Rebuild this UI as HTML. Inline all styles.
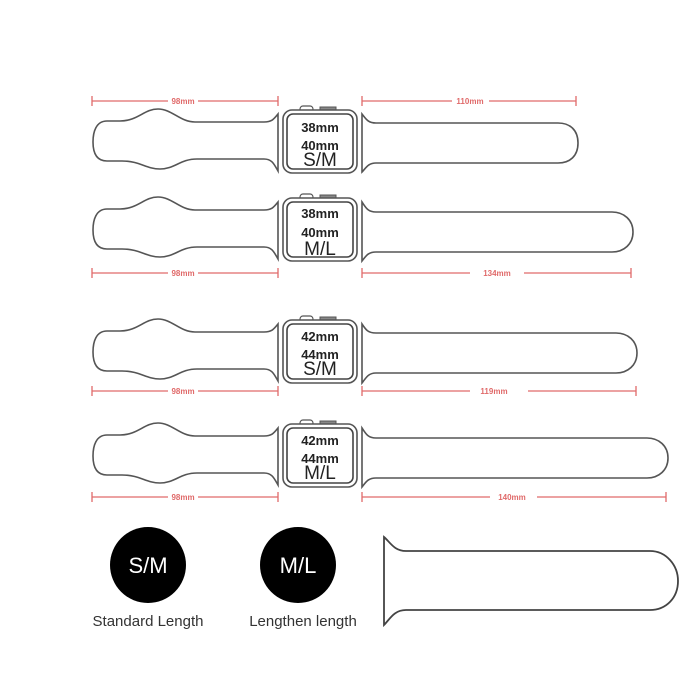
<!DOCTYPE html>
<html><head><meta charset="utf-8"><style>
html,body{margin:0;padding:0;background:#fff;width:700px;height:700px;overflow:hidden}
svg{display:block}
.s{fill:#fff;stroke:#555;stroke-width:1.6}
.d{stroke:#e06a6a;stroke-width:1.3;fill:none}
.dt{fill:#e06a6a;font:bold 8px "Liberation Sans",sans-serif}
.w1{font:bold 13px "Liberation Sans",sans-serif;fill:#222}
.w2{font:19px "Liberation Sans",sans-serif;fill:#222}
</style></head><body>
<svg width="700" height="700" viewBox="0 0 700 700" xmlns="http://www.w3.org/2000/svg">
<defs>
<g id="L">
<path class="s" d="M278,-28 C274,-23 272,-20 264,-20 L195,-20 C180,-20 172,-33 158,-33 C144,-33 138,-21 120,-21 L107,-21 C96,-21 93,-10 93,0 C93,10 96,19 107,19 L122,19 C140,19 146,27 160,27 C175,27 180,17 197,17 L264,17 C272,17 274,22 278,29 Z"/>
</g>
<g id="W">
<rect x="300" y="-36" width="13" height="6" rx="3" fill="#fff" stroke="#555" stroke-width="1.2"/>
<rect x="320" y="-35" width="16" height="4" fill="#888" stroke="#555" stroke-width="1"/>
<rect x="283" y="-32" width="74" height="63" rx="9" fill="#fff" stroke="#555" stroke-width="1.6"/>
<rect x="287" y="-28" width="66" height="55" rx="6" fill="#fff" stroke="#444" stroke-width="1.6"/>
</g>
</defs>

<g transform="translate(0,142)">
<use href="#L"/><use href="#W"/>
<path class="s" d="M362,-28 C366,-23 368,-19 376,-19 L558,-19 C570,-19 578,-12 578,1 C578,14 570,21 558,21 L376,21 C368,21 366,26 362,30 Z"/>
<text class="w1" x="320" y="-10" text-anchor="middle">38mm</text>
<text class="w1" x="320" y="8" text-anchor="middle">40mm</text>
<text class="w2" x="320" y="24" text-anchor="middle">S/M</text>
</g>
<g>
<path class="d" d="M92,101 H168 M198,101 H278 M92,96 V106 M278,96 V106"/>
<text class="dt" x="183" y="104" text-anchor="middle">98mm</text>
<path class="d" d="M362,101 H452 M489,101 H576 M362,96 V106 M576,96 V106"/>
<text class="dt" x="470" y="104" text-anchor="middle">110mm</text>
</g>

<g transform="translate(0,230)">
<use href="#L"/><use href="#W"/>
<path class="s" d="M362,-28 C366,-22 368,-18 376,-18 L612,-18 C624,-18 633,-10 633,2 C633,14 624,22 612,22 L376,22 C368,22 366,26 362,31 Z"/>
<text class="w1" x="320" y="-12" text-anchor="middle">38mm</text>
<text class="w1" x="320" y="7" text-anchor="middle">40mm</text>
<text class="w2" x="320" y="25" text-anchor="middle">M/L</text>
</g>
<g>
<path class="d" d="M92,273 H168 M198,273 H278 M92,268 V278 M278,268 V278"/>
<text class="dt" x="183" y="276" text-anchor="middle">98mm</text>
<path class="d" d="M362,273 H470 M524,273 H631 M362,268 V278 M631,268 V278"/>
<text class="dt" x="497" y="276" text-anchor="middle">134mm</text>
</g>

<g transform="translate(0,352)">
<use href="#L"/><use href="#W"/>
<path class="s" d="M362,-28 C366,-22 368,-19 376,-19 L616,-19 C628,-19 637,-11 637,1 C637,13 628,21 616,21 L376,21 C368,21 366,26 362,31 Z"/>
<text class="w1" x="320" y="-11" text-anchor="middle">42mm</text>
<text class="w1" x="320" y="7" text-anchor="middle">44mm</text>
<text class="w2" x="320" y="23" text-anchor="middle">S/M</text>
</g>
<g>
<path class="d" d="M92,391 H168 M198,391 H278 M92,386 V396 M278,386 V396"/>
<text class="dt" x="183" y="394" text-anchor="middle">98mm</text>
<path class="d" d="M362,391 H470 M528,391 H636 M362,386 V396 M636,386 V396"/>
<text class="dt" x="494" y="394" text-anchor="middle">119mm</text>
</g>

<g transform="translate(0,456)">
<use href="#L"/><use href="#W"/>
<path class="s" d="M362,-28 C366,-22 368,-18 376,-18 L647,-18 C659,-18 668,-10 668,2 C668,14 659,22 647,22 L376,22 C368,22 366,26 362,31 Z"/>
<text class="w1" x="320" y="-11" text-anchor="middle">42mm</text>
<text class="w1" x="320" y="7" text-anchor="middle">44mm</text>
<text class="w2" x="320" y="23" text-anchor="middle">M/L</text>
</g>
<g>
<path class="d" d="M92,497 H168 M198,497 H278 M92,492 V502 M278,492 V502"/>
<text class="dt" x="183" y="500" text-anchor="middle">98mm</text>
<path class="d" d="M362,497 H490 M537,497 H666 M362,492 V502 M666,492 V502"/>
<text class="dt" x="512" y="500" text-anchor="middle">140mm</text>
</g>

<circle cx="148" cy="565" r="38" fill="#000"/>
<text x="148" y="573" text-anchor="middle" fill="#fff" font-family="Liberation Sans, sans-serif" font-size="22">S/M</text>
<circle cx="298" cy="565" r="38" fill="#000"/>
<text x="298" y="573" text-anchor="middle" fill="#fff" font-family="Liberation Sans, sans-serif" font-size="22">M/L</text>
<text x="148" y="626" text-anchor="middle" fill="#333" font-family="Liberation Sans, sans-serif" font-size="15">Standard Length</text>
<text x="303" y="626" text-anchor="middle" fill="#333" font-family="Liberation Sans, sans-serif" font-size="15">Lengthen length</text>
<path fill="#fff" stroke="#444" stroke-width="1.8" d="M384,537 C390,542 394,551 406,551 L650,551 C666,551 678,565 678,581 C678,598 666,610 650,610 L406,610 C394,610 390,619 384,625 Z"/>
</svg>
</body></html>
